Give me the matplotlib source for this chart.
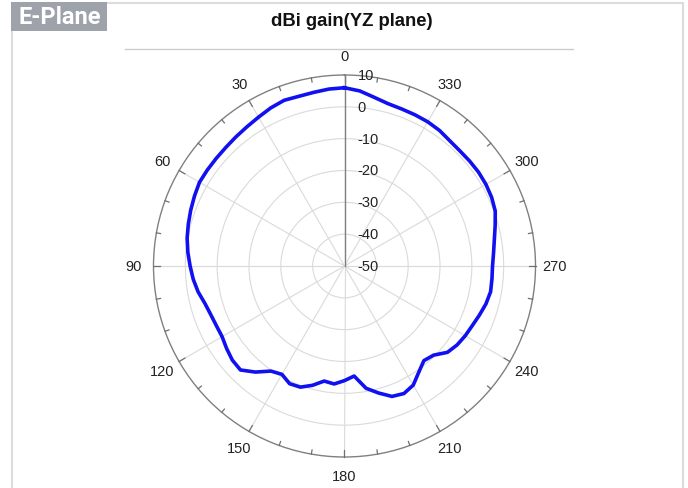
import numpy as np
import matplotlib
matplotlib.use("Agg")
import matplotlib.pyplot as plt
from matplotlib.patches import Rectangle
from matplotlib.lines import Line2D
from matplotlib.transforms import ScaledTranslation

# ---- data ----
angles_deg = [0, 5, 10, 15, 20, 25, 30, 35, 40, 45, 50, 55, 60, 65, 70, 75, 80, 85,
              90, 95, 100, 105, 110, 115, 120, 125, 130, 135, 140, 145, 150, 155, 160, 165,
              170, 175, 180, 185, 190, 195, 200, 205, 210, 215, 220, 225, 230, 235, 240, 245,
              250, 255, 260, 265, 270, 275, 280, 285, 290, 295, 300, 305, 310, 315, 320, 325,
              330, 335, 340, 345, 350, 355]
gain_dbi = [6.0, 5.8, 5.4, 5.2, 5.4, 4.8, 4.0, 3.4, 3.0, 2.7, 2.6, 2.6, 2.6, 2.0, 1.4, 0.8, 0.2, -0.6,
            -1.5, -2.3, -3.3, -4.6, -5.3, -5.6, -5.6, -4.8, -4.0, -3.8, -6.5, -9.7, -10.7, -9.2, -9.5, -11.2,
            -13.3, -12.8, -14.0, -15.3, -11.0, -8.7, -6.4, -5.8, -6.8, -9.3, -11.2, -10.4, -7.8, -6.8, -6.2, -5.7,
            -4.9, -4.0, -3.4, -3.5, -3.5, -3.0, -2.2, -1.0, 0.4, 1.0, 1.3, 1.4, 1.3, 1.2, 1.4, 2.0,
            2.3, 2.4, 2.5, 2.8, 3.8, 5.2]
theta_ticks = [0, 30, 60, 90, 120, 150, 180, 210, 240, 270, 300, 330]
theta_labels = [str(t) for t in theta_ticks]
r_ticks = [-50, -40, -30, -20, -10, 0, 10]
r_min, r_max = -50, 10
title = "dBi gain(YZ plane)"
badge = "E-Plane"

W, H = 688, 489
fig = plt.figure(figsize=(W / 100, H / 100), dpi=100)

# outer frame
fig.add_artist(Rectangle((12 / W, -0.05), (683 - 12) / W, (H - 4) / H + 0.05,
                         transform=fig.transFigure, fill=False,
                         edgecolor="#dcdcdc", lw=1.5, zorder=0))
# badge
fig.add_artist(Rectangle((11 / W, (H - 32) / H), 96 / W, 29 / H,
                         transform=fig.transFigure, facecolor="#9ea3ab",
                         edgecolor="none", zorder=1))
fig.text(59.5 / W, (H - 17.5) / H, badge, color="white", fontsize=17,
         fontweight="bold", family="Roboto", ha="center", va="center", zorder=2)
# title
fig.text(352 / W, (H - 22) / H, title, fontsize=13.3, fontweight="bold",
         family="Liberation Sans", ha="center", va="center", color="#111111")
fig.add_artist(Line2D([125 / W, 573 / W], [(H - 49.5) / H] * 2,
                      transform=fig.transFigure, color="#cccccc", lw=1))

cx, cy, R = 344.5, 267, 191
ax = fig.add_axes([(cx - R) / W, (H - cy - R) / H, 2 * R / W, 2 * R / H],
                  projection="polar")
ax.set_theta_zero_location("N")
ax.set_theta_direction(1)
ax.set_ylim(r_min, r_max)

ax.set_xticks(np.deg2rad(theta_ticks))
ax.set_xticklabels(theta_labels, family="Liberation Sans", fontsize=10.5, color="#222222")
ax.tick_params(axis="x", which="major", length=0, pad=7)
ax.set_yticks(r_ticks[1:-1])
ax.set_yticklabels([])
ax.tick_params(axis="y", length=0)
ax.grid(True, color="#dadada", lw=0.8)
ax.spines["polar"].set_color("#808080")
ax.spines["polar"].set_linewidth(1.0)

# tick marks on the outer circle (every 10 degrees, longer at 30)
span = r_max - r_min
for a in range(0, 360, 10):
    ln = 0.035 if a % 30 == 0 else 0.022
    ax.plot([np.deg2rad(a)] * 2, [r_max - ln * span, r_max], color="#707070",
            lw=0.9, zorder=3, clip_on=False)

# radial axis line and labels
ax.plot([0, 0], [r_min, r_max], color="#808080", lw=1.0, zorder=3)
off = ScaledTranslation(0.13, 0, fig.dpi_scale_trans)
for v in r_ticks:
    ax.text(0, v, str(v), transform=ax.transData + off, ha="left", va="center",
            family="Liberation Sans", fontsize=10.5, color="#222222", zorder=4)

th = np.deg2rad(angles_deg + [angles_deg[0]])
g = gain_dbi + [gain_dbi[0]]
ax.plot(th, g, color="#1010f0", lw=2.6, zorder=5)

fig.savefig("out.png", dpi=100)
